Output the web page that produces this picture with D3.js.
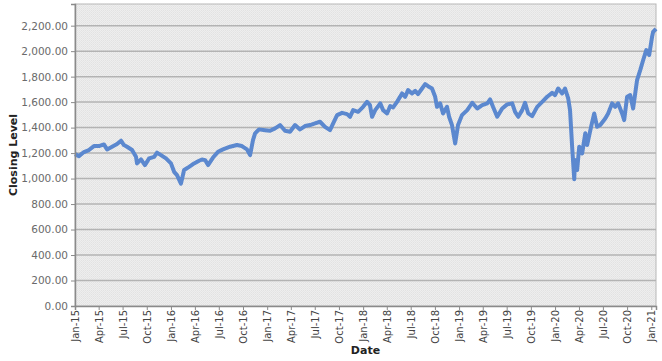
<!DOCTYPE html>
<html>
<meta charset="utf-8">
<style>
  body { margin: 0; background: #fff; }
  svg { display: block; }
  .tick text { font-family: "DejaVu Sans", sans-serif; }
</style>

<body>
  <svg></svg>
</body>

<script src="https://d3js.org/d3.v7.min.js"></script>

<script>

  // closing level, about every two weeks
  var dates = [
    "2015-01-01", "2015-01-16", "2015-02-04", "2015-02-23", "2015-03-14", "2015-04-02",
    "2015-04-21", "2015-05-03", "2015-05-22", "2015-06-10", "2015-06-25", "2015-07-06",
    "2015-07-18", "2015-08-06", "2015-08-21", "2015-08-25", "2015-09-09", "2015-09-24",
    "2015-10-10", "2015-10-29", "2015-11-09", "2015-11-24", "2015-12-13", "2016-01-01",
    "2016-01-13", "2016-01-24", "2016-02-08", "2016-02-20", "2016-03-10", "2016-03-29",
    "2016-04-17", "2016-04-28", "2016-05-10", "2016-05-21", "2016-06-09", "2016-06-28",
    "2016-07-17", "2016-08-13", "2016-09-08", "2016-09-27", "2016-10-16", "2016-10-28",
    "2016-11-08", "2016-11-16", "2016-12-01", "2016-12-24", "2017-01-12", "2017-01-31",
    "2017-02-19", "2017-03-10", "2017-03-29", "2017-04-17", "2017-05-06", "2017-05-25",
    "2017-06-13", "2017-07-02", "2017-07-21", "2017-08-09", "2017-08-28", "2017-09-09",
    "2017-09-24", "2017-10-13", "2017-11-01", "2017-11-12", "2017-11-24", "2017-12-13",
    "2018-01-01", "2018-01-16", "2018-01-27", "2018-02-04", "2018-02-16", "2018-03-07",
    "2018-03-18", "2018-04-02", "2018-04-14", "2018-04-25", "2018-05-10", "2018-05-29",
    "2018-06-10", "2018-06-21", "2018-07-06", "2018-07-18", "2018-07-29", "2018-08-13",
    "2018-08-25", "2018-09-05", "2018-09-20", "2018-10-02", "2018-10-09", "2018-10-21",
    "2018-11-01", "2018-11-16", "2018-11-24", "2018-12-05", "2018-12-17", "2018-12-28",
    "2019-01-12", "2019-02-01", "2019-02-20", "2019-03-11", "2019-03-30", "2019-04-18",
    "2019-04-29", "2019-05-10", "2019-05-26", "2019-06-14", "2019-07-03", "2019-07-22",
    "2019-08-02", "2019-08-14", "2019-08-29", "2019-09-09", "2019-09-21", "2019-10-06",
    "2019-10-25", "2019-11-13", "2019-12-02", "2019-12-21", "2020-01-01", "2020-01-13",
    "2020-01-28", "2020-02-08", "2020-02-20", "2020-02-27", "2020-03-06", "2020-03-14",
    "2020-03-17", "2020-03-25", "2020-04-02", "2020-04-13", "2020-04-25", "2020-05-02",
    "2020-05-17", "2020-05-29", "2020-06-09", "2020-06-21", "2020-07-10", "2020-07-21",
    "2020-08-05", "2020-08-17", "2020-08-28", "2020-09-12", "2020-09-20", "2020-10-01",
    "2020-10-13", "2020-10-24", "2020-11-08", "2020-11-20", "2020-12-01", "2020-12-13",
    "2020-12-24", "2021-01-04", "2021-01-08", "2021-01-19"
  ];
  var closes = [
    1192, 1176, 1208, 1224, 1255, 1255,
    1268, 1229, 1250, 1271, 1297, 1263,
    1250, 1224, 1171, 1119, 1150, 1106,
    1158, 1171, 1203, 1184, 1158, 1119,
    1053, 1027, 960, 1067, 1092, 1119,
    1140, 1150, 1145, 1106, 1165, 1210,
    1229, 1250, 1263, 1255, 1229, 1184,
    1302, 1355, 1386, 1380, 1375, 1394,
    1420, 1375, 1367, 1420, 1386, 1412,
    1420, 1433, 1446, 1406, 1380, 1433,
    1498, 1516, 1506, 1485, 1537, 1524,
    1563, 1602, 1576, 1485, 1537, 1590,
    1537, 1511, 1569, 1558, 1602, 1668,
    1642, 1694, 1668, 1689, 1663, 1707,
    1741, 1725, 1707, 1642, 1563, 1590,
    1511, 1563, 1485, 1420, 1275, 1420,
    1498, 1537, 1595, 1550, 1576, 1590,
    1621, 1563, 1485, 1550, 1582, 1590,
    1524, 1485, 1537, 1595, 1511, 1490,
    1563, 1602, 1642, 1673, 1655, 1707,
    1668, 1707, 1629, 1537, 1250, 995,
    1145, 1067, 1250, 1198, 1355, 1263,
    1406, 1511, 1406, 1420, 1472, 1511,
    1590, 1563, 1590, 1511, 1459, 1642,
    1655, 1550, 1773, 1851, 1929, 2008,
    1969, 2112, 2151, 2175
  ];

  var yTicks = [0, 200, 400, 600, 800, 1000, 1200, 1400, 1600, 1800, 2000, 2200];

  var parse = d3.timeParse("%Y-%m-%d");
  var data = dates.map((d, i) => ({ date: parse(d), value: closes[i] }));

  var W = 662, H = 361;
  var margin = { top: 4, right: 6, bottom: 55, left: 75 };
  var width = W - margin.left - margin.right;
  var height = H - margin.top - margin.bottom;

  var svg = d3.select("svg")
    .attr("width", W)
    .attr("height", H);

  // stippled plot background
  var pat = svg.append("defs").append("pattern")
    .attr("id", "dots")
    .attr("width", 2).attr("height", 2)
    .attr("patternUnits", "userSpaceOnUse");
  pat.append("rect").attr("width", 2).attr("height", 2).attr("fill", "#eeeeee");
  pat.append("rect").attr("width", 1).attr("height", 1).attr("fill", "#e2e2e2");
  pat.append("rect").attr("x", 1).attr("y", 1).attr("width", 1).attr("height", 1).attr("fill", "#e6e6e6");

  var g = svg.append("g")
    .attr("transform", "translate(" + margin.left + "," + margin.top + ")");

  var x = d3.scaleTime()
    .domain([parse("2015-01-01"), parse("2021-01-19")])
    .range([0, width]);

  var y = d3.scaleLinear()
    .domain([0, 2370])
    .range([height, 0]);

  g.append("rect")
    .attr("width", width)
    .attr("height", height)
    .attr("fill", "url(#dots)")
    .attr("stroke", "#b8b8b8");

  // gridlines
  g.append("g")
    .selectAll("line")
    .data(yTicks.slice(1))
    .enter().append("line")
    .attr("x1", 0)
    .attr("x2", width)
    .attr("y1", d => y(d))
    .attr("y2", d => y(d))
    .attr("stroke", "#b3b3b3")
    .attr("stroke-width", 1.5);

  // the series
  var line = d3.line()
    .x(d => x(d.date))
    .y(d => y(d.value));

  g.append("path")
    .datum(data)
    .attr("d", line)
    .attr("fill", "none")
    .attr("stroke", "#5b88cf")
    .attr("stroke-width", 4)
    .attr("stroke-linejoin", "round");

  // axes
  var yAxis = d3.axisLeft(y)
    .tickValues(yTicks)
    .tickFormat(d3.format(",.2f"))
    .tickSize(4)
    .tickPadding(3);

  var yg = g.append("g").call(yAxis);
  yg.select(".domain").attr("stroke", "#8a8a8a").attr("stroke-width", 1.5);
  yg.selectAll(".tick line").attr("stroke", "#8a8a8a");
  yg.selectAll(".tick text")
    .attr("fill", "#6a6a6a")
    .style("font-size", "10.5px");

  var quarters = d3.timeMonth.every(3).range(parse("2015-01-01"), parse("2021-01-02"));

  var xAxis = d3.axisBottom(x)
    .tickValues(quarters)
    .tickFormat(d3.timeFormat("%b-%y"))
    .tickSize(4);

  var xg = g.append("g")
    .attr("transform", "translate(0," + height + ")")
    .call(xAxis);
  xg.select(".domain").attr("stroke", "#8a8a8a").attr("stroke-width", 1.5);
  xg.selectAll(".tick line").attr("stroke", "#8a8a8a");
  xg.selectAll(".tick text")
    .attr("fill", "#444")
    .style("font-size", "10px")
    .attr("text-anchor", "end")
    .attr("transform", "rotate(-90)")
    .attr("x", -4)
    .attr("y", 0)
    .attr("dy", "0.35em");

  // axis titles
  svg.append("text")
    .attr("transform", "translate(17," + (margin.top + height / 2) + ") rotate(-90)")
    .attr("text-anchor", "middle")
    .style("font-family", "DejaVu Sans, sans-serif")
    .style("font-weight", "bold")
    .style("font-size", "11px")
    .attr("fill", "#222")
    .text("Closing Level");

  svg.append("text")
    .attr("x", margin.left + width / 2)
    .attr("y", 354)
    .attr("text-anchor", "middle")
    .style("font-family", "DejaVu Sans, sans-serif")
    .style("font-weight", "bold")
    .style("font-size", "11px")
    .attr("fill", "#222")
    .text("Date");

</script>

</html>
